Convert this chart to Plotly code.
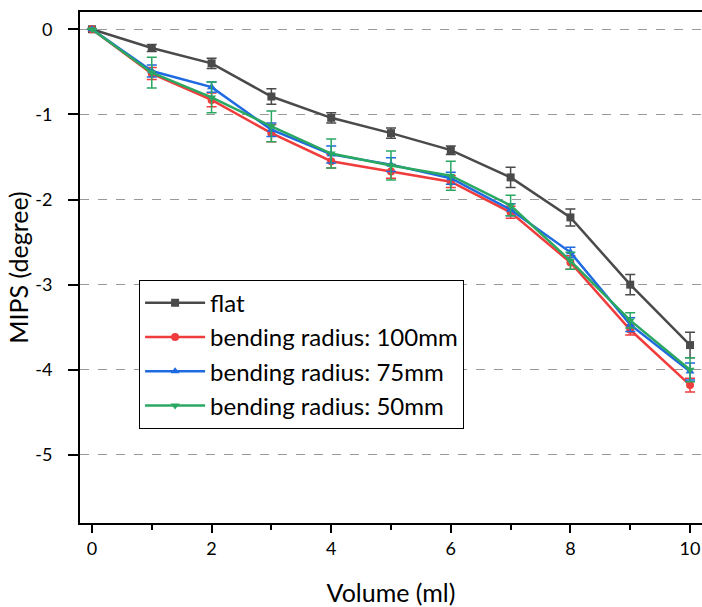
import plotly.graph_objects as go

# Volume steps (ml)
volume = [0, 1, 2, 3, 4, 5, 6, 7, 8, 9, 10]

# MIPS (degree) means and standard deviations per condition
flat = [0, -0.22, -0.40, -0.79, -1.04, -1.22, -1.42, -1.74, -2.21, -3.00, -3.71]
flat_err = [0, 0.04, 0.06, 0.09, 0.06, 0.06, 0.05, 0.12, 0.10, 0.12, 0.15]

r100 = [0, -0.52, -0.83, -1.22, -1.55, -1.67, -1.79, -2.15, -2.74, -3.53, -4.18]
r100_err = [0, 0.07, 0.08, 0.10, 0.08, 0.08, 0.07, 0.07, 0.08, 0.06, 0.08]

r75 = [0, -0.49, -0.68, -1.18, -1.47, -1.59, -1.75, -2.12, -2.62, -3.47, -4.02]
r75_err = [0, 0.07, 0.06, 0.08, 0.10, 0.08, 0.07, 0.07, 0.06, 0.08, 0.10]

r50 = [0, -0.51, -0.80, -1.14, -1.46, -1.60, -1.72, -2.07, -2.72, -3.42, -4.00]
r50_err = [0, 0.18, 0.18, 0.18, 0.17, 0.17, 0.17, 0.12, 0.10, 0.09, 0.14]

# Axis tick labels
x_ticks = [0, 2, 4, 6, 8, 10]
y_ticks = [0, -1, -2, -3, -4, -5]
y_ticktext = ["0", "-1", "-2", "-3", "-4", "-5"]

series = [
    ("flat", flat, flat_err, "#4a4a4a", "square"),
    ("bending radius: 100mm", r100, r100_err, "#f03c3c", "circle"),
    ("bending radius: 75mm", r75, r75_err, "#1f6ae0", "triangle-up"),
    ("bending radius: 50mm", r50, r50_err, "#2aa862", "triangle-down"),
]

FONT = "Lato"

fig = go.Figure()
for name, ys, errs, color, symbol in series:
    fig.add_trace(go.Scatter(
        x=volume, y=ys, name=name, legendgroup=name, mode="lines+markers",
        line=dict(color=color, width=2.5),
        marker=dict(symbol=symbol, size=8, color=color),
        error_y=dict(type="data", array=errs, visible=True,
                     color=color, thickness=1.5, width=5),
    ))

fig.update_layout(
    width=702, height=607,
    margin=dict(l=80, r=0, t=12, b=84),
    paper_bgcolor="white", plot_bgcolor="white",
    font=dict(family=FONT, color="black", size=18),
    showlegend=True,
    legend=dict(
        x=0.095, y=0.476, xanchor="left", yanchor="top",
        bgcolor="white", bordercolor="black", borderwidth=1,
        font=dict(family=FONT, size=24, color="black"),
        itemwidth=60, tracegroupgap=0,
    ),
)

fig.update_xaxes(
    range=[-0.2, 10.2], tickmode="array", tickvals=x_ticks,
    ticks="outside", ticklen=8, tickwidth=2, tickcolor="black",
    minor=dict(ticks="outside", ticklen=5, tickwidth=2, tickcolor="black",
               tickvals=[1, 3, 5, 7, 9]),
    showline=True, linecolor="black", linewidth=2, mirror=True,
    showgrid=False, zeroline=False,
    tickfont=dict(size=18),
    title=dict(text="Volume (ml)", font=dict(size=25), standoff=27),
)

fig.update_yaxes(
    range=[-5.80, 0.203], tickmode="array", tickvals=y_ticks,
    ticktext=y_ticktext,
    ticks="outside", ticklen=10, tickwidth=2, tickcolor="black",
    showline=True, linecolor="black", linewidth=2, mirror=False,
    showgrid=True, gridcolor="#999999", gridwidth=1, griddash="dash",
    zeroline=False,
    tickfont=dict(size=18),
    ticklabelstandoff=12,
    title=dict(text="MIPS (degree)", font=dict(size=25), standoff=0),
    automargin=False,
)

fig.write_html("out.html")
